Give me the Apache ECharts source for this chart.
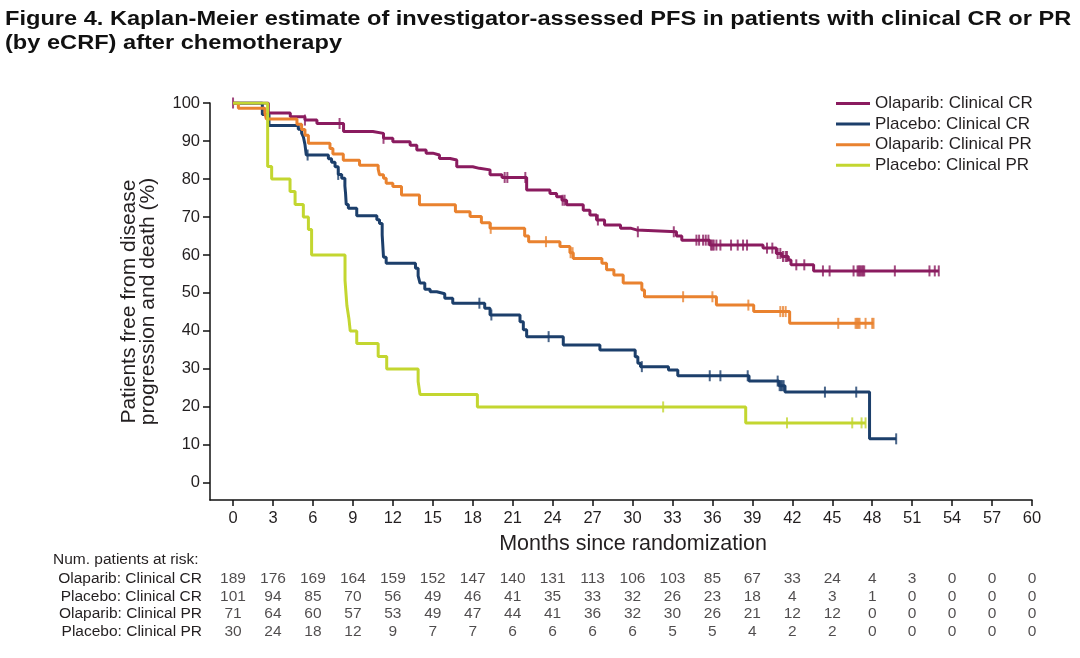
<!DOCTYPE html>
<html>
<head>
<meta charset="utf-8">
<script src="https://cdn.jsdelivr.net/npm/echarts@6/dist/echarts.min.js"></script>
<style>
html,body{margin:0;padding:0;background:#fff;}
#c{width:1080px;height:658px;}
</style>
</head>
<body>
<div id="c"></div>
<script>
// ---- Data ----
const seriesNames = ['Olaparib: Clinical CR', 'Placebo: Clinical CR', 'Olaparib: Clinical PR', 'Placebo: Clinical PR'];

const olapCR_t = [0, 2.65, 4.3, 5.4, 6.3, 8.3, 10.5, 11.3, 12.0, 13.3, 13.8, 14.5, 15.0, 15.5, 16.3, 16.8, 18.0, 18.5, 19.3, 20.2, 22.05, 23.8, 24.3, 24.7, 25.05, 26.3, 26.8, 27.3, 27.9, 29.1, 29.9, 30.3, 33.3, 33.7, 35.8, 39.8, 40.8, 41.2, 41.7, 41.9, 43.6];
const olapCR_s = [100, 97.4, 96.4, 95.5, 94.6, 92.5, 92.0, 90.7, 89.8, 88.9, 87.6, 86.8, 86.3, 85.4, 85.0, 83.2, 82.8, 82.4, 81.1, 80.4, 77.1, 76.2, 75.3, 74.4, 73.2, 71.8, 70.5, 69.2, 67.9, 67.0, 66.6, 66.1, 65.0, 63.9, 62.6, 61.8, 60.4, 59.6, 58.7, 57.4, 55.8];
const olapCR_cens = [0, 5.4, 8.0, 11.3, 20.4, 20.6, 21.95, 24.75, 24.9, 27.4, 30.4, 33.1, 34.8, 35.0, 35.3, 35.5, 35.7, 35.9, 36.0, 36.1, 36.3, 36.6, 37.4, 37.9, 38.3, 38.6, 40.1, 40.5, 40.9, 41.1, 41.3, 41.5, 41.6, 42.3, 42.9, 44.3, 44.8, 46.6, 46.9, 47.0, 47.1, 47.2, 47.3, 47.4, 49.7, 52.3, 52.7, 53.0];

const placCR_t = [0, 2.2, 2.7, 4.9, 5.15, 5.28, 5.4, 5.5, 7.16, 7.4, 7.66, 7.9, 8.16, 8.4, 8.45, 8.5, 8.66, 9.29, 10.8, 11.0, 11.2, 11.3, 11.5, 13.7, 13.9, 14.04, 14.4, 14.8, 15.3, 15.9, 16.5, 18.9, 19.3, 21.55, 21.8, 22.05, 24.8, 27.55, 30.2, 30.4, 30.6, 32.7, 33.4, 38.75, 41.0, 41.45, 47.8];
const placCR_s = [100, 97.0, 94.1, 93.1, 92.1, 91.1, 89.1, 86.3, 85.3, 84.4, 83.2, 81.2, 80.2, 78.2, 76.2, 73.3, 72.3, 70.3, 69.3, 68.3, 65.3, 59.4, 57.8, 56.5, 54.5, 52.6, 51.0, 50.3, 49.8, 48.6, 47.3, 46.0, 44.2, 42.4, 40.3, 38.5, 36.3, 35.0, 33.2, 31.5, 30.6, 29.7, 28.2, 26.8, 25.6, 23.9, 11.6];
const placCR_cens = [5.6, 7.9, 18.5, 19.4, 23.7, 30.7, 35.8, 36.6, 38.65, 40.9, 41.05, 41.15, 41.25, 41.35, 44.45, 46.8, 49.8];

const olapPR_t = [0, 0.4, 2.4, 2.5, 4.8, 5.15, 5.4, 5.66, 7.28, 7.5, 8.28, 9.5, 10.9, 11.0, 11.3, 11.5, 12.0, 12.65, 14.0, 16.7, 17.8, 18.65, 19.3, 21.9, 22.2, 24.55, 25.3, 25.55, 27.7, 28.05, 28.6, 29.3, 30.7, 30.9, 36.3, 39.1, 41.8];
const olapPR_s = [100, 98.6, 97.2, 95.8, 94.4, 93.0, 91.5, 89.4, 88.0, 86.6, 84.9, 83.6, 82.6, 81.1, 80.2, 78.9, 78.0, 75.8, 73.2, 71.4, 70.1, 68.5, 67.0, 65.0, 63.5, 62.2, 60.6, 59.1, 57.8, 56.1, 54.7, 52.6, 50.8, 49.0, 46.8, 45.1, 42.0];
const olapPR_cens = [19.35, 23.5, 25.35, 25.5, 33.8, 36.0, 38.7, 41.1, 41.3, 41.5, 45.45, 46.75, 46.85, 46.95, 47.05, 47.5, 48.0, 48.1];

const placPR_t = [0, 2.6, 2.9, 4.28, 4.66, 5.28, 5.66, 5.9, 8.41, 8.55, 8.7, 8.8, 9.29, 10.9, 11.54, 13.9, 14.04, 18.35, 38.5];
const placPR_s = [100, 83.3, 80.0, 76.7, 73.3, 70.0, 66.7, 60.0, 53.3, 46.7, 43.3, 40.0, 36.7, 33.3, 30.0, 26.7, 23.3, 20.0, 15.8];
const placPR_cens = [32.3, 41.6, 46.5, 47.2, 47.5];

const xTicks = [0, 3, 6, 9, 12, 15, 18, 21, 24, 27, 30, 33, 36, 39, 42, 45, 48, 51, 54, 57, 60];
const yTicks = [0, 10, 20, 30, 40, 50, 60, 70, 80, 90, 100];

const riskTimes = [0, 3, 6, 9, 12, 15, 18, 21, 24, 27, 30, 33, 36, 39, 42, 45, 48, 51, 54, 57, 60];
const riskOlapCR = [189, 176, 169, 164, 159, 152, 147, 140, 131, 113, 106, 103, 85, 67, 33, 24, 4, 3, 0, 0, 0];
const riskPlacCR = [101, 94, 85, 70, 56, 49, 46, 41, 35, 33, 32, 26, 23, 18, 4, 3, 1, 0, 0, 0, 0];
const riskOlapPR = [71, 64, 60, 57, 53, 49, 47, 44, 41, 36, 32, 30, 26, 21, 12, 12, 0, 0, 0, 0, 0];
const riskPlacPR = [30, 24, 18, 12, 9, 7, 7, 6, 6, 6, 6, 5, 5, 4, 2, 2, 0, 0, 0, 0, 0];

const titleText = 'Figure 4. Kaplan-Meier estimate of investigator-assessed PFS in patients with clinical CR or PR\n(by eCRF) after chemotherapy';

// ---- Styling ----
const colors = ['#8a1b5f', '#1c3f6b', '#e9822f', '#c3d630'];
const FONT = '"Liberation Sans", Arial, Helvetica, sans-serif';
const TXT = '#231f20';

function survAt(ts, ss, t) {
  let v = ss[0];
  for (let i = 0; i < ts.length; i++) if (ts[i] <= t) v = ss[i];
  return v;
}
function curveData(ts, ss, cens) {
  const d = ts.map((t, i) => [t, ss[i]]);
  const end = Math.max(...cens);
  if (end > ts[ts.length - 1]) d.push([end, ss[ss.length - 1]]);
  return d;
}
function censData(ts, ss, cens) {
  return cens.map(t => [t, survAt(ts, ss, t)]);
}

const curves = [
  [olapCR_t, olapCR_s, olapCR_cens],
  [placCR_t, placCR_s, placCR_cens],
  [olapPR_t, olapPR_s, olapPR_cens],
  [placPR_t, placPR_s, placPR_cens]
];
const riskRows = [riskOlapCR, riskPlacCR, riskOlapPR, riskPlacPR];

const series = [];
curves.forEach((c, k) => {
  series.push({
    name: seriesNames[k], type: 'line', step: 'end', symbol: 'none',
    xAxisIndex: 0, yAxisIndex: 0,
    lineStyle: { color: colors[k], width: 3 }, itemStyle: { color: colors[k] },
    data: curveData(c[0], c[1], c[2]), z: 3 + k, animation: false
  });
  series.push({
    name: seriesNames[k] + ' censored', type: 'scatter', symbol: 'rect', symbolSize: [2, 11],
    xAxisIndex: 0, yAxisIndex: 0,
    itemStyle: { color: colors[k] }, data: censData(c[0], c[1], c[2]), z: 3 + k, animation: false
  });
});
const riskData = [];
riskRows.forEach((row, r) => row.forEach((n, i) => riskData.push([riskTimes[i], r, n])));
series.push({
  type: 'scatter', xAxisIndex: 1, yAxisIndex: 1, symbolSize: 0, animation: false,
  data: riskData,
  label: { show: true, position: 'inside', formatter: p => String(p.value[2]), fontSize: 15.5, color: TXT, fontFamily: FONT }
});

const chart = echarts.init(document.getElementById('c'), null, { renderer: 'canvas' });
chart.setOption({
  animation: false,
  backgroundColor: '#fff',
  legend: {
    orient: 'vertical', left: 836, top: 95, padding: 0,
    data: seriesNames, icon: 'rect', itemWidth: 34, itemHeight: 3, itemGap: 3.6,
    textStyle: { fontFamily: FONT, fontSize: 17, color: TXT },
    selectedMode: false
  },
  grid: [
    { left: 210, right: 48, top: 103, bottom: 158 },
    { left: 210, right: 48, top: 570, height: 70 }
  ],
  xAxis: [
    {
      type: 'value', gridIndex: 0, min: -1.73, max: 60,
      name: 'Months since randomization', nameLocation: 'middle', nameGap: 33,
      nameTextStyle: { fontFamily: FONT, fontSize: 21.5, color: TXT, padding: [0, 0, 0, 24] },
      axisLine: { show: true, onZero: false, lineStyle: { color: '#111', width: 1.5 } },
      axisTick: { show: true, length: 6, customValues: xTicks, lineStyle: { color: '#111', width: 1.5 } },
      axisLabel: { customValues: xTicks, fontFamily: FONT, fontSize: 16.5, color: TXT, margin: 10 },
      splitLine: { show: false }
    },
    { type: 'value', gridIndex: 1, min: -1.73, max: 60, show: false }
  ],
  yAxis: [
    {
      type: 'value', gridIndex: 0, min: -4.5, max: 100,
      name: 'Patients free from disease\nprogression and death (%)', nameLocation: 'middle', nameGap: 52,
      nameTextStyle: { fontFamily: FONT, fontSize: 21, color: TXT, lineHeight: 19 },
      axisLine: { show: true, onZero: false, lineStyle: { color: '#111', width: 1.5 } },
      axisTick: { show: true, length: 7, customValues: yTicks, lineStyle: { color: '#111', width: 1.5 } },
      axisLabel: { customValues: yTicks, fontFamily: FONT, fontSize: 16.5, color: TXT, margin: 10 },
      splitLine: { show: false }
    },
    {
      type: 'category', gridIndex: 1, inverse: true, data: seriesNames,
      axisLine: { show: false }, axisTick: { show: false }, splitLine: { show: false },
      axisLabel: { interval: 0, fontFamily: FONT, fontSize: 15.5, color: TXT, margin: 8 }
    }
  ],
  graphic: [
    { type: 'text', x: 5, y: 7, scaleX: 1.18,
      style: { text: titleText, fontFamily: FONT, fontSize: 20, fontWeight: 'bold', fill: '#111', lineHeight: 24 } },
    { type: 'text', left: 53, top: 552, style: { text: 'Num. patients at risk:', fontFamily: FONT, fontSize: 15.5, fill: TXT } }
  ],
  series: series
});
</script>
</body>
</html>
